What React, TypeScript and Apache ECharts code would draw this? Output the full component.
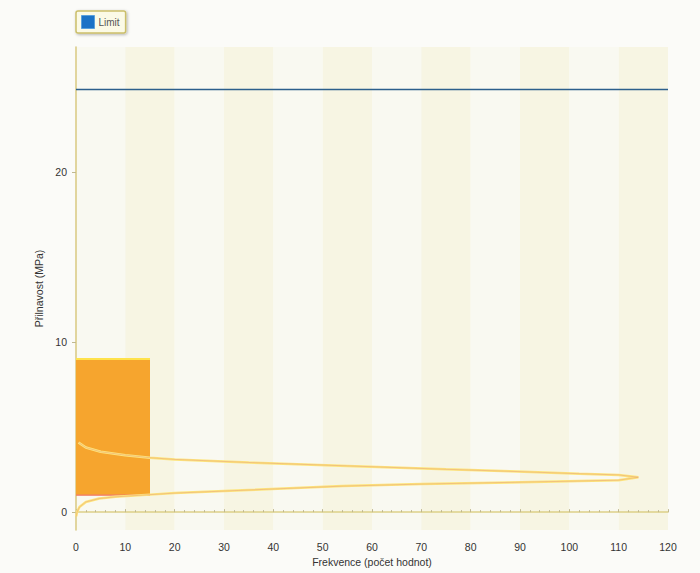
import React, { useEffect, useRef } from "react";
import * as echarts from "echarts";

// Histogram bar (frequency vs. strength interval)
const histFreq = [15];
const histFrom = [1];
const histTo = [9];

// Fitted distribution curve (frequency, strength)
const curveFreq = [0.5, 2, 5, 10, 15, 20, 35, 55, 75, 88, 102, 110, 114, 110, 102, 88, 70, 54, 35, 20, 15, 8, 4.7, 2, 0.7, 0.2, 0.05];
const curveValue = [4.1, 3.8, 3.55, 3.35, 3.2, 3.1, 2.92, 2.72, 2.52, 2.4, 2.26, 2.19, 2.05, 1.88, 1.83, 1.75, 1.65, 1.53, 1.3, 1.12, 1.03, 0.9, 0.8, 0.6, 0.3, 0, -0.25];

// Limit line
const limitValue = 24.85;
const limitRange = [0, 120];

const yTickValues = [0, 10, 20];

const FONT = "Liberation Sans";

export default function App() {
  const ref = useRef<HTMLDivElement>(null);
  useEffect(() => {
    if (!ref.current) return;
    const chart = echarts.init(ref.current, null, { renderer: "svg" });
    const histData = histFreq.map((f, i) => [0, f, histFrom[i], histTo[i]]);
    const curveData = curveFreq.map((f, i) => [f, curveValue[i]]);
    const limitData = limitRange.map((f) => [f, limitValue]);
    chart.setOption({
      animation: false,
      backgroundColor: "#fbfbf8",
      textStyle: { fontFamily: FONT },
      legend: {
        left: 76,
        top: 11,
        padding: [4, 6, 4, 5],
        itemWidth: 13,
        itemHeight: 13,
        backgroundColor: "#fbfae6",
        borderColor: "#cbbf6a",
        borderWidth: 1.5,
        borderRadius: 2,
        shadowBlur: 3,
        shadowColor: "rgba(0,0,0,0.3)",
        shadowOffsetX: 1,
        shadowOffsetY: 1,
        textStyle: { fontSize: 10, color: "#555", fontFamily: FONT, padding: [0, 0, 0, -1] },
        data: [{ name: "Limit", icon: "rect", itemStyle: { color: "#1b72c6", borderColor: "#5aa0dc", borderWidth: 1 } }],
      },
      grid: { left: 76, right: 32, top: 47, bottom: 43, containLabel: false },
      xAxis: {
        type: "value",
        min: 0,
        max: 120,
        interval: 10,
        name: "Frekvence (počet hodnot)",
        nameLocation: "middle",
        nameGap: 24,
        nameTextStyle: { fontSize: 10.5, color: "#333", fontFamily: FONT },
        axisLine: { show: true, lineStyle: { color: "#ddd088", width: 1.5 } },
        axisTick: { show: true, inside: true, length: 3, lineStyle: { color: "#c0b890" } },
        minorTick: { show: true, splitNumber: 5, length: 2, lineStyle: { color: "#c0b890" } },
        axisLabel: { fontSize: 10.5, color: "#333", margin: 11, fontFamily: FONT },
        splitLine: { show: false },
        splitArea: { show: true, areaStyle: { color: ["#f9f9f1", "#f7f5e3"] } },
      },
      yAxis: {
        type: "value",
        min: -1.05,
        max: 27.35,
        name: "Přilnavost (MPa)",
        nameLocation: "middle",
        nameGap: 30,
        nameTextStyle: { fontSize: 10.5, color: "#333", fontFamily: FONT },
        axisLine: { show: true, lineStyle: { color: "#d8c880", width: 1.5 } },
        axisTick: { show: true, length: 4, customValues: yTickValues, lineStyle: { color: "#c0b890" } },
        axisLabel: { fontSize: 10.5, color: "#333", margin: 9, customValues: yTickValues, fontFamily: FONT },
        splitLine: { show: false },
      },
      series: [
        {
          type: "custom",
          name: "Histogram",
          z: 2,
          data: histData,
          renderItem: (params: any, api: any) => {
            const x0 = api.value(0);
            const x1 = api.value(1);
            const y0 = api.value(2);
            const y1 = api.value(3);
            const pTL = api.coord([x0, y1]);
            const pBR = api.coord([x1, y0]);
            return {
              type: "group",
              children: [
                {
                  type: "rect",
                  shape: { x: pTL[0], y: pTL[1], width: pBR[0] - pTL[0], height: pBR[1] - pTL[1] },
                  style: { fill: "#f6a52e" },
                },
                {
                  type: "line",
                  shape: { x1: pTL[0], y1: pTL[1], x2: pBR[0], y2: pTL[1] },
                  style: { stroke: "#ffe24a", lineWidth: 2 },
                },
                {
                  type: "line",
                  shape: { x1: pTL[0], y1: pBR[1], x2: pBR[0], y2: pBR[1] },
                  style: { stroke: "#f27a6a", lineWidth: 1.2 },
                },
              ],
            };
          },
        },
        {
          type: "line",
          name: "Rozdělení",
          z: 3,
          data: curveData,
          showSymbol: false,
          smooth: false,
          lineStyle: { color: "#fde57c", width: 2.5 },
          silent: true,
        },
        {
          type: "line",
          name: "Rozdělení2",
          z: 4,
          data: curveData,
          showSymbol: false,
          smooth: false,
          lineStyle: { color: "#e08a7a", width: 0.7, opacity: 0.55 },
          silent: true,
        },
        {
          type: "line",
          name: "Limit",
          z: 5,
          data: limitData,
          showSymbol: false,
          lineStyle: { color: "#2c5f8c", width: 1.5 },
          itemStyle: { color: "#1b72c6" },
        },
      ],
    });
    return () => chart.dispose();
  }, []);
  return <div ref={ref} style={{ position: "fixed", left: 0, top: 0, width: 700, height: 573 }} />;
}
